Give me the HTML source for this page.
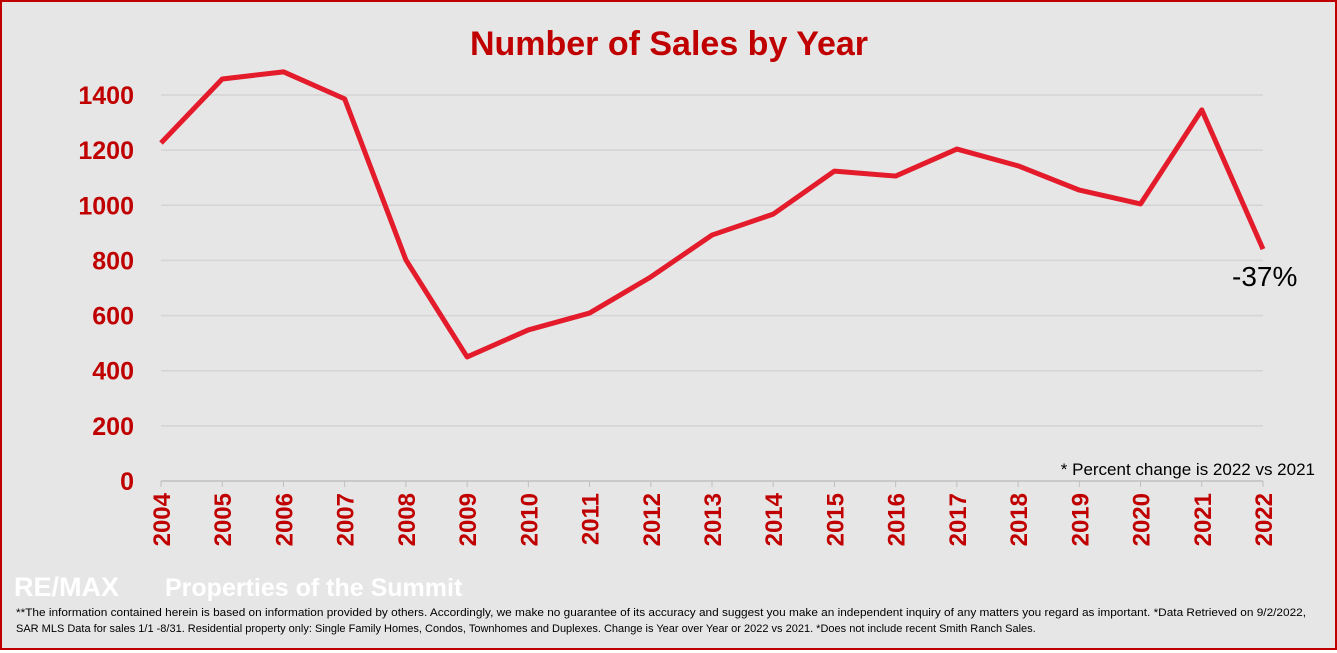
<!DOCTYPE html>
<html><head><meta charset="utf-8"><style>
body{margin:0;width:1337px;height:650px;overflow:hidden;font-family:"Liberation Sans",sans-serif}
#wrap{position:absolute;left:0;top:0;width:1333px;height:646px;border:2px solid #c00000;background:#e6e6e6}
</style></head><body>
<div id="wrap">
<svg id="chart" width="1333" height="646"></svg>
</div>
<script>
const years=["2004","2005","2006","2007","2008","2009","2010","2011","2012","2013","2014","2015","2016","2017","2018","2019","2020","2021","2022"];
const sales=[1226,1458,1484,1386,802,450,548,609,740,892,968,1124,1106,1204,1143,1055,1005,1346,841];
const yTicks=[0,200,400,600,800,1000,1200,1400];
const NS="http://www.w3.org/2000/svg";
const svg=document.getElementById('chart');
const ox=-2,oy=-2;
function X(i){return 161+i*(1102/18)+ox;}
function Y(v){return 481-v*(386/1400)+oy;}
function mk(t,a,txt){const e=document.createElementNS(NS,t);for(const k in a)e.setAttribute(k,a[k]);if(txt!==undefined)e.textContent=txt;svg.appendChild(e);return e;}
let e=mk('text',{x:667,y:53,'text-anchor':'middle','font-size':34,'font-weight':'bold',fill:'#c00000'},'Number of Sales by Year');


yTicks.forEach(v=>{
 const g=mk('line',{x1:X(0),x2:X(18),y1:Y(v),y2:Y(v),stroke:v===0?'#bfbfbf':'#d4d4d4','stroke-width':1.5});
 
 
 const t=mk('text',{x:132,y:Y(v)+9,'text-anchor':'end','font-size':25,'font-weight':'bold',fill:'#c00000'},String(v));
 
 
});
years.forEach((y,i)=>{
 const tk=mk('line',{x1:X(i),x2:X(i),y1:Y(0),y2:Y(0)+6,stroke:'#bfbfbf'});
 
 
 const t=mk('text',{x:X(i)+9,y:Y(0)+12,'text-anchor':'end','font-size':24,'font-weight':'bold',fill:'#c00000',transform:`rotate(-90 ${X(i)+9} ${Y(0)+12})`},y);
 
 
});
const pts=sales.map((v,i)=>X(i)+','+Y(v)).join(' ');
const line=mk('polyline',{points:pts,fill:'none',stroke:'#e31b2b','stroke-width':5,'stroke-linejoin':'round'});


e=mk('text',{x:1230,y:284,'font-size':28,fill:'#000'},'-37%');


e=mk('text',{x:1313,y:473,'text-anchor':'end','font-size':17,fill:'#000'},'* Percent change is 2022 vs 2021');


e=mk('text',{x:12,y:594,'font-size':27,'font-weight':'bold',fill:'#ffffff'},'RE/MAX');


e=mk('text',{x:163,y:594,'font-size':25,'font-weight':'bold',fill:'#ffffff'},'Properties of the Summit');


e=mk('text',{x:14,y:614,'font-size':11,fill:'#000',textLength:1290,lengthAdjust:'spacingAndGlyphs'},'**The information contained herein is based on information provided by others. Accordingly, we make no guarantee of its accuracy and suggest you make an independent inquiry of any matters you regard as important. *Data Retrieved on 9/2/2022,');


e=mk('text',{x:14,y:630,'font-size':11,fill:'#000'},'SAR MLS Data for sales 1/1 -8/31. Residential property only: Single Family Homes, Condos, Townhomes and Duplexes. Change is Year over Year or 2022 vs 2021. *Does not include recent Smith Ranch Sales.');


</script>
</body></html>
